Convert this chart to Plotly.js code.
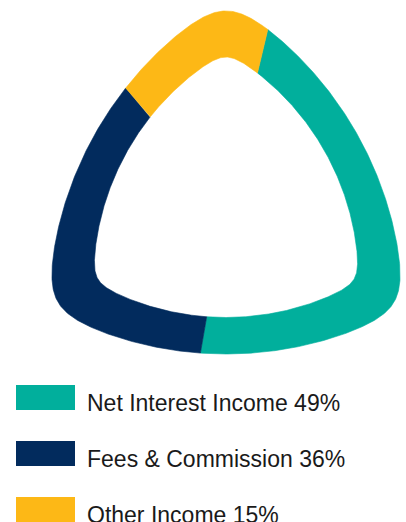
<!DOCTYPE html>
<html>
<head>
<meta charset="utf-8">
<script src="https://cdn.plot.ly/plotly-3.0.1.min.js"></script>
<style>
  html, body { margin: 0; padding: 0; background: #ffffff; }
  #chart { width: 406px; height: 522px; }
</style>
</head>
<body>
<div id="chart"></div>
<script>
// ---- data ----
const categories = ["Net Interest Income", "Fees & Commission", "Other Income"];
const values = [49, 36, 15];

// ---- styles ----
const colors = ["#01AF9C", "#022B5D", "#FDB816"];

// ---- rounded-triangle ring geometry (pixel units) ----
const W = 406, H = 522;
const cx = 226, cy = 205;
const startDeg = 76.6;          // where the first slice starts (math degrees), going clockwise
const sideNormals = [30, 150, 270].map(d => d * Math.PI / 180);
// distance from the centre to the boundary of a curved triangle (three arcs of radius R,
// side mid-points at distance s), with corners rounded by a smooth minimum of exponent p
function shapeR(phi, s, R, p) {
  const e = R - s, K = R * R - e * e;
  let sum = 0;
  sideNormals.forEach(n => {
    const c = Math.cos(phi - n);
    const t = -e * c + Math.sqrt(e * e * c * c + K);
    sum += Math.pow(t, -p);
  });
  return Math.pow(sum, -1 / p);
}
const rOuter = phi => shapeR(phi, 149, 360, 13);
const rInner = phi => shapeR(phi, 112.5, 263, 20);

const total = values.reduce((a, b) => a + b, 0);
const traces = [];
let a = startDeg * Math.PI / 180;
values.forEach((v, i) => {
  const span = v / total * 2 * Math.PI;
  const n = Math.max(8, Math.ceil(span * 180 / Math.PI * 3));
  const xs = [], ys = [];
  for (let k = 0; k <= n; k++) {
    const phi = a - span * k / n;
    const r = rOuter(phi);
    xs.push(cx + r * Math.cos(phi)); ys.push(cy - r * Math.sin(phi));
  }
  for (let k = n; k >= 0; k--) {
    const phi = a - span * k / n;
    const r = rInner(phi);
    xs.push(cx + r * Math.cos(phi)); ys.push(cy - r * Math.sin(phi));
  }
  xs.push(xs[0]); ys.push(ys[0]);
  traces.push({
    type: "scatter", mode: "lines", x: xs, y: ys,
    fill: "toself", fillcolor: colors[i],
    line: { color: colors[i], width: 0.6 },
    name: categories[i] + " " + values[i] + "%",
    hoverinfo: "name", showlegend: false
  });
  a -= span;
});

// ---- custom legend (boxes + labels) ----
const shapes = [], annotations = [];
const legTop = 385, legStep = 56, boxH = 25;
categories.forEach((c, i) => {
  const y0 = legTop + i * legStep;
  shapes.push({ type: "rect", xref: "x", yref: "y", x0: 16, x1: 75, y0: y0, y1: y0 + boxH,
                fillcolor: colors[i], line: { width: 0 } });
  annotations.push({ xref: "x", yref: "y", x: 85, y: y0 + boxH / 2 + 5, xanchor: "left", yanchor: "middle",
                     text: c + " " + values[i] + "%", showarrow: false,
                     font: { family: "Liberation Sans, Arial, sans-serif", size: 23, color: "#1a1a1a" } });
});

const layout = {
  width: W, height: H, autosize: false,
  margin: { l: 0, r: 0, t: 0, b: 0, pad: 0 },
  paper_bgcolor: "#ffffff", plot_bgcolor: "#ffffff",
  xaxis: { range: [0, W], visible: false, fixedrange: true },
  yaxis: { range: [H, 0], visible: false, fixedrange: true },
  shapes: shapes, annotations: annotations, showlegend: false
};
Plotly.newPlot("chart", traces, layout, { staticPlot: true, displayModeBar: false });
</script>
</body>
</html>
